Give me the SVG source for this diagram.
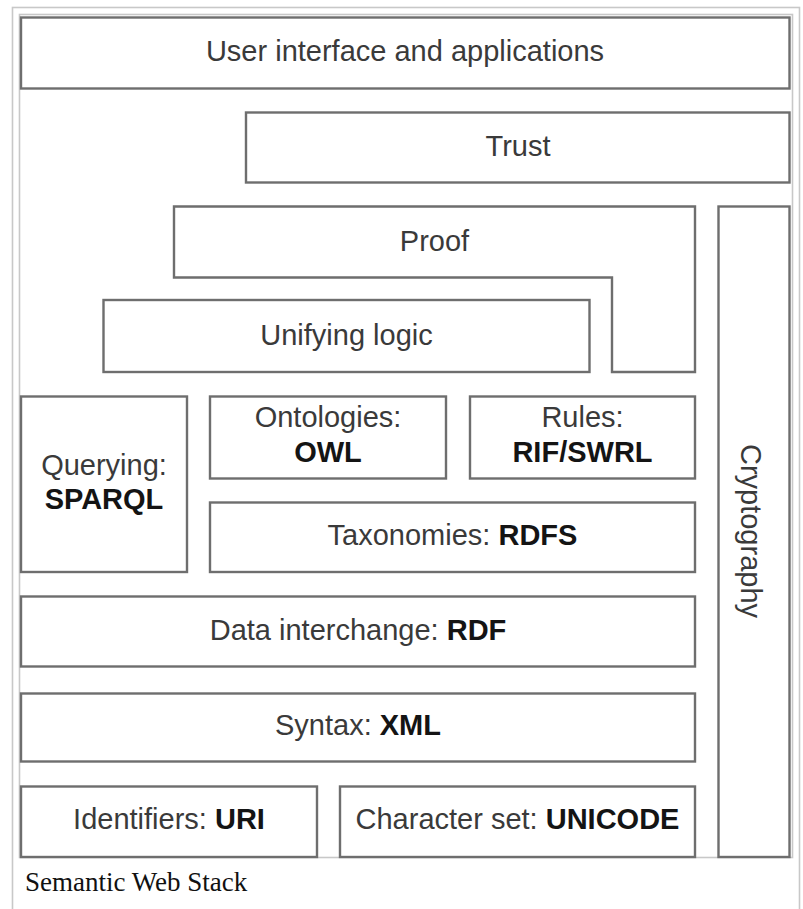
<svg xmlns="http://www.w3.org/2000/svg" width="803" height="909" viewBox="0 0 803 909">
<style>
.frame{fill:none;stroke:#c8c8c8;stroke-width:1.6}
.box{fill:#fff;stroke:#6e6e6e;stroke-width:2.4}
.t{font-family:"Liberation Sans",Arial,Helvetica,sans-serif;font-size:29px;fill:#3a3a3a;text-anchor:middle}
.b{font-weight:bold;fill:#141414}
.cap{font-family:"Liberation Serif","Times New Roman",serif;font-size:27px;fill:#111}
</style>
<rect x="0" y="0" width="803" height="909" fill="#fff"/>
<rect class="frame" x="12.5" y="7.5" width="787" height="920"/>
<rect class="frame" x="19.5" y="14.5" width="773" height="843"/>
<g id="connectors"/>
<g id="ui"><rect class="box" x="21" y="17.5" width="768.5" height="71"/><text class="t" x="405" y="60.5">User interface and applications</text></g>
<g id="trust"><rect class="box" x="246" y="112.5" width="543.5" height="70"/><text class="t" x="518" y="156">Trust</text></g>
<g id="proof"><polygon class="box" points="174,206.5 695,206.5 695,372 612,372 612,277.5 174,277.5"/><text class="t" x="434.5" y="250.5">Proof</text></g>
<g id="crypto"><rect class="box" x="718.5" y="206.5" width="71" height="650.5"/><text class="t" transform="translate(741,531) rotate(90)">Cryptography</text></g>
<g id="logic"><rect class="box" x="103.5" y="300" width="486" height="72"/><text class="t" x="346.5" y="345">Unifying logic</text></g>
<g id="query"><rect class="box" x="21" y="396.5" width="166" height="175.5"/><text class="t" x="104" y="475">Querying:</text><text class="t b" x="104" y="509">SPARQL</text></g>
<g id="owl"><rect class="box" x="210" y="396.5" width="236" height="82"/><text class="t" x="328" y="427">Ontologies:</text><text class="t b" x="328" y="461.5">OWL</text></g>
<g id="rules"><rect class="box" x="470" y="396.5" width="225" height="82"/><text class="t" x="582.5" y="427">Rules:</text><text class="t b" x="582.5" y="461.5">RIF/SWRL</text></g>
<g id="rdfs"><rect class="box" x="210" y="502.5" width="485" height="69.5"/><text class="t" x="452.5" y="545">Taxonomies: <tspan class="b">RDFS</tspan></text></g>
<g id="rdf"><rect class="box" x="21" y="596.5" width="674" height="70"/><text class="t" x="358" y="640">Data interchange: <tspan class="b">RDF</tspan></text></g>
<g id="xml"><rect class="box" x="21" y="693.5" width="674" height="68"/><text class="t" x="358" y="735">Syntax: <tspan class="b">XML</tspan></text></g>
<g id="uri"><rect class="box" x="21" y="786.5" width="296" height="70.5"/><text class="t" x="169" y="828.5">Identifiers: <tspan class="b">URI</tspan></text></g>
<g id="unicode"><rect class="box" x="340" y="786.5" width="355" height="70.5"/><text class="t" x="517.5" y="828.5">Character set: <tspan class="b">UNICODE</tspan></text></g>
<g id="caption"><text class="cap" x="25" y="891">Semantic Web Stack</text></g>
</svg>
